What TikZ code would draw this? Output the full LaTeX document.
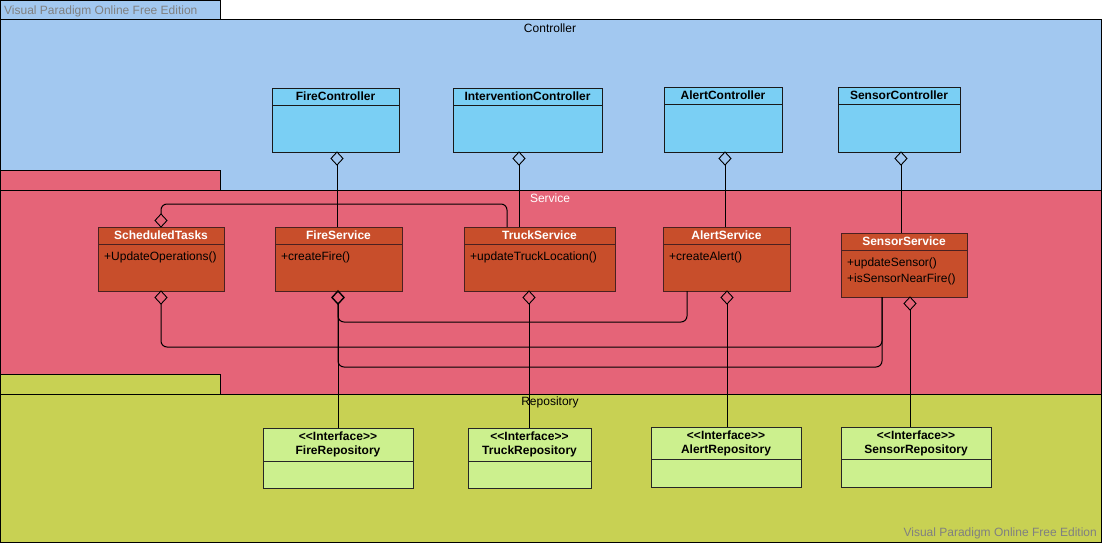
\documentclass[tikz,border=0pt]{standalone}
\usepackage{fontspec}
\setmainfont{Liberation Sans}
\usetikzlibrary{shapes.geometric,calc}

\definecolor{ctrlpkg}{HTML}{A2C8F0}
\definecolor{ctrlcls}{HTML}{7ACFF4}
\definecolor{servpkg}{HTML}{E56478}
\definecolor{servcls}{HTML}{C84E2B}
\definecolor{servline}{HTML}{4A2020}
\definecolor{repopkg}{HTML}{C8D153}
\definecolor{repocls}{HTML}{CCF08E}
\definecolor{wmgray}{HTML}{808080}

\newcommand{\umlreg}{\fontsize{12}{14}\selectfont}
\newcommand{\umlbold}{\fontsize{12}{14}\selectfont\bfseries}

% class box: name, style, x1, y1, x2, y2, title height, title style, title
\newcommand{\umlclass}[9]{%
  \node[#2, anchor=north west, minimum width={#5-#3}, minimum height={#6-#4}] (#1) at (#3,#4) {};
  \draw[#2] ($(#1.north west)+(0,#7)$) -- ($(#1.north east)+(0,#7)$);
  \node[#8] (#1-title) at ($(#1.north)+(0,#7/2)$) {#9};
}

\begin{document}
\begin{tikzpicture}[x=1pt,y=-1pt,
  every node/.style={font=\umlreg},
  pkg/.style={draw=black, line width=1pt},
  ctrlbox/.style={rectangle, draw=black!90, fill=ctrlcls, line width=1pt, inner sep=0pt, outer sep=0pt},
  servbox/.style={rectangle, draw=servline, fill=servcls, line width=1pt, inner sep=0pt, outer sep=0pt},
  repobox/.style={rectangle, draw=black!85, fill=repocls, line width=1pt, inner sep=0pt, outer sep=0pt},
  ctrltitle/.style={font=\umlbold, text=black, inner sep=0pt},
  servtitle/.style={font=\umlbold, text=white, inner sep=0pt},
  repotitle/.style={font=\umlbold, text=black, inner sep=0pt, align=center},
  meth/.style={font=\fontsize{12}{16}\selectfont, text=black, inner sep=0pt, anchor=west, align=left},
  wm/.style={text=wmgray, inner sep=0pt},
  aggr/.style={diamond, draw=black, line width=0.9pt, inner sep=0pt, outer sep=0pt,
               minimum width=12pt, minimum height=13pt},
  conn/.style={draw=black, line width=1pt},
]
\useasboundingbox (0,0) rectangle (1102,543);

% ---- Controller package ----
\draw[pkg, fill=ctrlpkg] (0.5,0.5) rectangle (220,20);
\draw[pkg, fill=ctrlpkg] (0.5,20) rectangle (1101.5,542);
\node[wm, anchor=west] (wmtop) at (4,11) {Visual Paradigm Online Free Edition};
\node (ctrllabel) at (550,28) {Controller};

% ---- Service package ----
\draw[pkg, fill=servpkg] (0.5,170) rectangle (220,190);
\draw[pkg, fill=servpkg] (0.5,190) rectangle (1101.5,542);
\node[text=white] (servlabel) at (550,198) {Service};

% ---- Repository package ----
\draw[pkg, fill=repopkg] (0.5,374) rectangle (220,394);
\draw[pkg, fill=repopkg] (0.5,394) rectangle (1101.5,542);
\node (repolabel) at (550,402) {Repository};
\node[wm, anchor=east] (wmbottom) at (1097,533) {Visual Paradigm Online Free Edition};

% ---- Controllers ----
\umlclass{fc}{ctrlbox}{272}{88}{399}{152}{17}{ctrltitle}{FireController}
\umlclass{ic}{ctrlbox}{453}{88}{602}{152}{17}{ctrltitle}{InterventionController}
\umlclass{ac}{ctrlbox}{664}{87}{782}{152}{17}{ctrltitle}{AlertController}
\umlclass{sc}{ctrlbox}{838}{87}{960}{152}{17}{ctrltitle}{SensorController}

% ---- Services ----
\umlclass{st}{servbox}{98}{227}{224}{291}{17}{servtitle}{ScheduledTasks}
\umlclass{fs}{servbox}{275}{227}{402}{291}{17}{servtitle}{FireService}
\umlclass{ts}{servbox}{464}{227}{615}{291}{17}{servtitle}{TruckService}
\umlclass{as}{servbox}{663}{227}{790}{291}{17}{servtitle}{AlertService}
\umlclass{ss}{servbox}{841}{233}{967}{297}{17}{servtitle}{SensorService}

\node[meth] (st-m) at ($(st.north west)+(6,30)$) {+UpdateOperations()};
\node[meth] (fs-m) at ($(fs.north west)+(6,30)$) {+createFire()};
\node[meth] (ts-m) at ($(ts.north west)+(6,30)$) {+updateTruckLocation()};
\node[meth] (as-m) at ($(as.north west)+(6,30)$) {+createAlert()};
\node[meth] (ss-m) at ($(ss.north west)+(6,38)$) {+updateSensor()\\+isSensorNearFire()};

% ---- Repositories ----
\umlclass{fr}{repobox}{263}{428}{413}{488}{33}{repotitle}{{<}{<}Interface{>}{>}\\FireRepository}
\umlclass{tr}{repobox}{468}{428}{591}{488}{33}{repotitle}{{<}{<}Interface{>}{>}\\TruckRepository}
\umlclass{ar}{repobox}{651}{427}{801}{487}{32}{repotitle}{{<}{<}Interface{>}{>}\\AlertRepository}
\umlclass{sr}{repobox}{841}{427}{991}{487}{32}{repotitle}{{<}{<}Interface{>}{>}\\SensorRepository}

% ---- Aggregation diamonds ----
\node[aggr, anchor=north] (dfc) at ($(fc.south west)+(65,0)$) {};
\node[aggr, anchor=north] (dic) at ($(ic.south west)+(66,0)$) {};
\node[aggr, anchor=north] (dac) at ($(ac.south west)+(61,0)$) {};
\node[aggr, anchor=north] (dsc) at ($(sc.south west)+(63,0)$) {};
\node[aggr, anchor=south] (dst1) at ($(st.north west)+(63,0)$) {};
\node[aggr, anchor=north] (dst2) at ($(st.south west)+(63,0)$) {};
\node[aggr, anchor=north, line width=1.4pt] (dfs) at ($(fs.south west)+(63,0)$) {};
\node[aggr, anchor=north] (dts) at ($(ts.south west)+(65,0)$) {};
\node[aggr, anchor=north] (das) at ($(as.south west)+(64,0)$) {};
\node[aggr, anchor=north] (dss) at ($(ss.south west)+(69,0)$) {};

% ---- Connectors ----
\draw[conn] (dfc.south) -- (dfc.south |- fs.north);
\draw[conn] (dic.south) -- (dic.south |- ts.north);
\draw[conn] (dac.south) -- (dac.south |- as.north);
\draw[conn] (dsc.south) -- (dsc.south |- ss.north);

\draw[conn, rounded corners=6pt] (dst1.north) -- ++(0,-10) -| ($(ts.north west)+(43,0)$);
\draw[conn, rounded corners=6pt] (dst2.south) -- ++(0,43) -| ($(ss.south west)+(41,0)$);
\draw[conn, rounded corners=6pt] (dfs.south) -- ++(0,18) -| ($(as.south west)+(24,0)$);
\draw[conn, rounded corners=6pt] (dfs.south) -- ++(0,63) -| ($(ss.south west)+(41,0)$);

\draw[conn] (dfs.south) -- (dfs.south |- fr.north);
\draw[conn] (dts.south) -- (dts.south |- tr.north);
\draw[conn] (das.south) -- (das.south |- ar.north);
\draw[conn] (dss.south) -- (dss.south |- sr.north);
\end{tikzpicture}
\end{document}
